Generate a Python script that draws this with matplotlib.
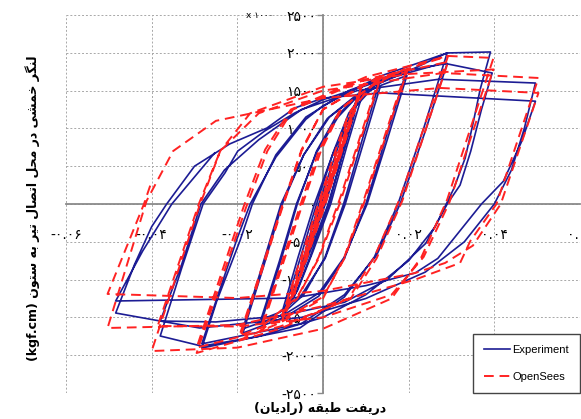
import numpy as np
import matplotlib
matplotlib.use("Agg")
import matplotlib.pyplot as plt

# story drift (rad) and moment at the beam-column joint (kgf.cm x 1000)
exp_drift = [
    0.0, 0.0037, 0.0005, -0.0037, -0.0004,
    0.0052, 0.0008, -0.0051, -0.0006,
    0.0074, 0.0048, 0.0012, -0.0035, -0.0073, -0.0046, -0.0010, 0.0035,
    0.0092, 0.0052, 0.0014, -0.0030, -0.0065, -0.0095,
    -0.0055, -0.0015, 0.0025, 0.0060, 0.0092,
    0.0055, 0.0018, -0.0025, -0.0060, -0.0095,
    -0.0058, -0.0020, 0.0022, 0.0070,
    0.0134, 0.0090, 0.0048, 0.0005, -0.0045, -0.0100, -0.0145,
    -0.0100, -0.0060, -0.0015, 0.0030, 0.0080, 0.0134,
    0.0093, 0.0052, 0.0005, -0.0050, -0.0100, -0.0145,
    -0.0102, -0.0062, -0.0015, 0.0035, 0.0090,
    0.0196, 0.0148, 0.0100, 0.0050, -0.0010, -0.0090, -0.0187,
    -0.0140, -0.0095, -0.0045, 0.0010, 0.0080, 0.0196,
    0.0150, 0.0103, 0.0050, -0.0010, -0.0090, -0.0187,
    -0.0142, -0.0098, -0.0045, 0.0015, 0.0100, 0.0200,
    0.0290, 0.0235, 0.0175, 0.0120, 0.0050, -0.0054, -0.0283,
    -0.0248, -0.0194, -0.0165, -0.0110, -0.0040, 0.0060, 0.0180, 0.0290,
    0.0238, 0.0180, 0.0125, 0.0050, -0.0050, -0.0283,
    -0.0245, -0.0200, -0.0170, -0.0110, -0.0040, 0.0000, 0.0133, 0.0290,
    0.0391, 0.0367, 0.0350, 0.0332, 0.0305, 0.0262, 0.0200, 0.0100,
    0.0000, -0.0150, -0.0283, -0.0380,
    -0.0330, -0.0280, -0.0229, -0.0199, -0.0136, -0.0066, 0.0000, 0.0140,
    0.0280, 0.0395,
    0.0370, 0.0345, 0.0320, 0.0290, 0.0240, 0.0150, 0.0050, -0.0100,
    -0.0250, -0.0380,
    -0.0330, -0.0285, -0.0230, -0.0150, -0.0050, 0.0080, 0.0270, 0.0496,
    0.0470, 0.0440, 0.0400, 0.0330, 0.0239, 0.0100, -0.0050, -0.0288,
    -0.0380, -0.0484,
    -0.0440, -0.0400, -0.0365, -0.0300, -0.0218, -0.0131, -0.0066, 0.0000,
    0.0133, 0.0496,
    0.0464, 0.0421, 0.0370, 0.0268, 0.0215, 0.0100, -0.0070, -0.0484,
    -0.0421, -0.0353, -0.0253,
]
exp_moment = [
    0, 640, 30, -660, -20,
    880, 40, -900, -40,
    1200, 700, 0, -700, -1230, -720, 0, 750,
    1575, 800, 0, -700, -1200, -1500,
    -750, 0, 700, 1200, 1450,
    750, 0, -650, -1150, -1420,
    -700, 0, 650, 1250,
    1650, 820, 0, -700, -1200, -1480, -1580,
    -780, 0, 700, 1150, 1430, 1560,
    780, 0, -720, -1200, -1430, -1530,
    -760, 0, 680, 1150, 1480,
    1780, 900, 0, -720, -1220, -1500, -1707,
    -850, 0, 650, 1130, 1450, 1700,
    850, 0, -700, -1180, -1460, -1650,
    -820, 0, 650, 1150, 1520, 1760,
    2000, 1000, 0, -700, -1230, -1640, -1905,
    -1283, -489, 0, 650, 1150, 1500, 1750, 1860,
    950, 0, -680, -1200, -1580, -1850,
    -1200, -450, 0, 620, 1120, 1300, 1690, 1998,
    2011, 1518, 1058, 608, 200, -300, -750, -1200,
    -1500, -1750, -1880, -1746,
    -850, 0, 410, 700, 966, 1204, 1380, 1640,
    1865, 1733,
    1250, 700, 250, 0, -520, -1000, -1300, -1480,
    -1560, -1548,
    -800, 0, 450, 850, 1250, 1500, 1650, 1600,
    1000, 450, 0, -500, -900, -1250, -1500, -1640,
    -1548, -1442,
    -800, -300, 0, 500, 794, 1005, 1270, 1400,
    1470, 1360,
    830, 300, 0, -720, -913, -1080, -1244, -1283,
    -622, 0, 675,
]

ops_drift = [
    0.0, 0.00375, -0.00375, 0.0050, -0.0050,
    0.0060, 0.0075, 0.0002, -0.0055, -0.0075, -0.0002, 0.0055,
    0.0089, 0.0000, -0.0045, -0.0065, -0.0095,
    -0.0005, 0.0035, 0.0060, 0.0089,
    0.0002, -0.0040, -0.0065, -0.0095,
    -0.0010, 0.0030, 0.0060,
    0.0133, 0.0040, -0.0010, -0.0060, -0.0145,
    -0.0050, -0.0005, 0.0045, 0.0133,
    0.0040, -0.0010, -0.0060, -0.0145,
    -0.0055, -0.0010, 0.0040, 0.0110,
    0.0196, 0.0095, 0.0050, 0.0000, -0.0100, -0.0195,
    -0.0095, -0.0050, 0.0000, 0.0100, 0.0196,
    0.0096, 0.0050, 0.0000, -0.0100, -0.0195,
    -0.0095, -0.0050, 0.0000, 0.0120,
    0.0292, 0.0180, 0.0120, 0.0060, -0.0100, -0.0295,
    -0.0180, -0.0130, -0.0070, 0.0100, 0.0292,
    0.0185, 0.0125, 0.0065, -0.0100, -0.0295,
    -0.0185, -0.0135, -0.0075, 0.0100, 0.0292,
    0.0398, 0.0290, 0.0230, 0.0160, 0.0000, -0.0200, -0.0400,
    -0.0290, -0.0240, -0.0170, 0.0000, 0.0200, 0.0398,
    0.0295, 0.0235, 0.0160, 0.0000, -0.0200, -0.0386,
    -0.0290, -0.0240, -0.0150, 0.0000, 0.0280, 0.0503,
    0.0405, 0.0344, 0.0320, 0.0215, 0.0000, -0.0200, -0.0503,
    -0.0412, -0.0350, -0.0250, 0.0000, 0.0274, 0.0503,
    0.0415, 0.0350, 0.0285, 0.0215, 0.0000, -0.0200, -0.0503,
    -0.0418, -0.0400,
]
ops_moment = [
    0, 650, -650, 860, -860,
    1050, 1250, -60, -1000, -1250, 60, 1000,
    1535, -20, -800, -1150, -1540,
    30, 720, 1150, 1500,
    -20, -740, -1130, -1480,
    20, 720, 1200,
    1693, 80, -700, -1250, -1680,
    -40, 700, 1280, 1640,
    20, -720, -1230, -1630,
    -50, 700, 1250, 1550,
    1800, 50, -700, -1250, -1570, -1800,
    -50, 700, 1250, 1600, 1750,
    20, -720, -1230, -1540, -1740,
    -20, 720, 1250, 1650,
    1958, 80, -700, -1250, -1650, -1971,
    -50, 700, 1250, 1650, 1880,
    40, -720, -1250, -1620, -1900,
    -30, 720, 1250, 1680, 1958,
    1932, 60, -700, -1250, -1650, -1900, -1945,
    -50, 700, 1200, 1550, 1720, 1780,
    20, -700, -1200, -1500, -1620, -1614,
    0, 700, 1200, 1500, 1733, 1667,
    0, -489, -780, -1000, -1350, -1600, -1640,
    40, 700, 1100, 1400, 1535, 1469,
    0, -550, -780, -913, -1150, -1244, -1190,
    0, 300,
]

x_ticks = [-0.06, -0.04, -0.02, 0.0, 0.02, 0.04, 0.06]
x_tick_labels = ["-۰.۰۶", "-۰.۰۴", "-۰.۰۲", "", "۰.۰۲", "۰.۰۴", "۰.۰۶"]
y_ticks = [-2500, -2000, -1500, -1000, -500, 0, 500, 1000, 1500, 2000, 2500]
y_tick_labels = ["-۲۵۰۰", "-۲۰۰۰", "-۱۵۰۰", "-۱۰۰۰", "-۵۰۰", "۰",
                 "۵۰۰", "۱۰۰۰", "۱۵۰۰", "۲۰۰۰", "۲۵۰۰"]

x_label = "دریفت طبقه (رادیان)"
y_label = "لنگر خمشی در محل اتصال تیر به ستون"
y_unit = "(kgf.cm)"

# isolated, final, initial, medial presentation forms
FORMS = {
    "ا": ("\ufe8d", "\ufe8e", None, None),
    "ب": ("\ufe8f", "\ufe90", "\ufe91", "\ufe92"),
    "ت": ("\ufe95", "\ufe96", "\ufe97", "\ufe98"),
    "ح": ("\ufea1", "\ufea2", "\ufea3", "\ufea4"),
    "خ": ("\ufea5", "\ufea6", "\ufea7", "\ufea8"),
    "د": ("\ufea9", "\ufeaa", None, None),
    "ر": ("\ufead", "\ufeae", None, None),
    "س": ("\ufeb1", "\ufeb2", "\ufeb3", "\ufeb4"),
    "ش": ("\ufeb5", "\ufeb6", "\ufeb7", "\ufeb8"),
    "ص": ("\ufeb9", "\ufeba", "\ufebb", "\ufebc"),
    "ط": ("\ufec1", "\ufec2", "\ufec3", "\ufec4"),
    "ف": ("\ufed1", "\ufed2", "\ufed3", "\ufed4"),
    "ق": ("\ufed5", "\ufed6", "\ufed7", "\ufed8"),
    "گ": ("\ufb92", "\ufb93", "\ufb94", "\ufb95"),
    "ل": ("\ufedd", "\ufede", "\ufedf", "\ufee0"),
    "م": ("\ufee1", "\ufee2", "\ufee3", "\ufee4"),
    "ن": ("\ufee5", "\ufee6", "\ufee7", "\ufee8"),
    "ه": ("\ufee9", "\ufeea", "\ufeeb", "\ufeec"),
    "و": ("\ufeed", "\ufeee", None, None),
    "ی": ("\ufbfc", "\ufbfd", "\ufbfe", "\ufbff"),
}


def rtl(text):
    """Join Persian letters and put them in display order."""
    out = []
    for i, c in enumerate(text):
        if c not in FORMS:
            out.append(c)
            continue
        prev = text[i - 1] if i > 0 else None
        nxt = text[i + 1] if i + 1 < len(text) else None
        iso, fin, ini, med = FORMS[c]
        join_prev = prev in FORMS and FORMS[prev][2] is not None
        join_next = ini is not None and nxt in FORMS
        if join_prev and join_next:
            out.append(med)
        elif join_prev:
            out.append(fin)
        elif join_next:
            out.append(ini)
        else:
            out.append(iso)
    return "".join(reversed(out)).translate(str.maketrans("()", ")("))


fig = plt.figure(figsize=(5.81, 4.19), dpi=100)
ax = fig.add_axes([66 / 581, 26 / 419, 514 / 581, 378 / 419])

ax.plot(exp_drift, exp_moment, color="#1c1c94", lw=1.2, label="Experiment",
        zorder=3)
ax.plot(ops_drift, ops_moment, color="#ff2222", lw=1.4, ls=(0, (5, 3)),
        label="OpenSees", zorder=3)

ax.set_xlim(-0.06, 0.06)
ax.set_ylim(-2500, 2500)
ax.set_xticks(x_ticks)
ax.set_xticklabels(x_tick_labels, fontsize=7.5, fontweight="bold")
ax.set_yticks(y_ticks)
ax.set_yticklabels(y_tick_labels, fontsize=7.5, fontweight="bold")
ax.grid(True, ls=(0, (2, 2)), color="#a8a8a8", lw=0.7)

for side in ["top", "right"]:
    ax.spines[side].set_visible(False)
for side in ["left", "bottom"]:
    ax.spines[side].set_position("zero")
    ax.spines[side].set_color("#8a8a8a")
    ax.spines[side].set_linewidth(1.3)
ax.tick_params(axis="y", direction="out", length=4, width=1,
               color="#8a8a8a", pad=1)
ax.tick_params(axis="x", length=0, pad=17)

# scale note next to the top tick label
ax.text(0.404, 1.0, "x ۱۰۰۰", transform=ax.transAxes, ha="right",
        va="center", fontsize=6.5)

ax.set_xlabel(rtl(x_label), fontsize=9, fontweight="bold")
ax.xaxis.set_label_coords(0.494, -0.025)
ax.set_ylabel(y_unit + " " + rtl(y_label), fontsize=9, fontweight="bold")
ax.yaxis.set_label_coords(-0.05, 0.49)

leg = ax.legend(loc="lower right", bbox_to_anchor=(1.0, 0.0),
                borderaxespad=0, fancybox=False, edgecolor="#444444",
                framealpha=1, prop=dict(family="Liberation Sans", size=8),
                handlelength=2.3, handletextpad=0.2, labelspacing=1.5,
                borderpad=1.0)
leg.get_frame().set_linewidth(1.0)

fig.savefig("out.png", dpi=100)
